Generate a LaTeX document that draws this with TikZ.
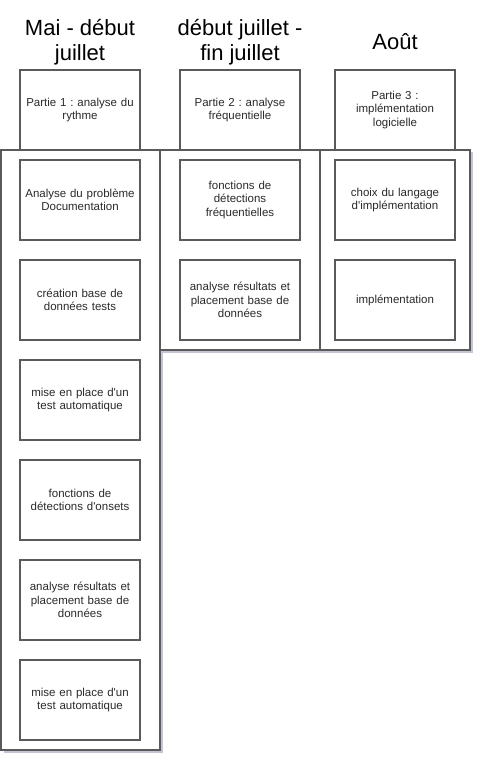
\documentclass[tikz,border=0pt]{standalone}
\usepackage{fontspec}
\setmainfont{Liberation Sans}
\usetikzlibrary{shadows}
\frenchspacing

\definecolor{edge}{HTML}{5A5A5A}
\definecolor{txt}{HTML}{2A2A2A}
\definecolor{shade}{HTML}{9AA0B8}
\newcommand{\ap}{\textquotesingle}

\begin{document}
\begin{tikzpicture}[x=1pt, y=-1pt,
    lane/.style={rectangle, draw=edge, line width=1.1pt, fill=white,
      drop shadow={shadow xshift=2.5pt, shadow yshift=-2.5pt, fill=shade, opacity=.6}},
    task/.style={rectangle, draw=edge, line width=1.1pt, fill=white,
      minimum width=120pt, minimum height=80pt, text width=118pt, align=center,
      inner sep=1pt, text=txt, font=\fontsize{11.5}{13.5}\selectfont},
    period/.style={align=center, text=black, font=\fontsize{22}{25}\selectfont}]
\useasboundingbox (0,0) rectangle (483,762);

\node[period] (T1) at (80,42)  {Mai - début\\juillet};
\node[period] (T2) at (240,42) {début juillet -\\fin juillet};
\node[period] (T3) at (395,42) {Août};

\node[lane, minimum width=159pt, minimum height=600pt] (L1) at (80.5,450) {};
\node[lane, minimum width=160pt, minimum height=200pt] (L2) at (240,250)  {};
\node[lane, minimum width=150pt, minimum height=200pt] (L3) at (395,250)  {};

\node[task] (P1) at (80,110)  {Partie 1 : analyse du\\rythme};
\node[task] (P2) at (240,110) {Partie 2 : analyse\\fréquentielle};
\node[task] (P3) at (395,110) {Partie 3 :\\implémentation\\logicielle};

\node[task] (A1) at (80,200) {Analyse du problème\\Documentation};
\node[task] (A2) at (80,300) {création base de\\données tests};
\node[task] (A3) at (80,400) {mise en place d\ap un\\test automatique};
\node[task] (A4) at (80,500) {fonctions de\\détections d\ap onsets};
\node[task] (A5) at (80,600) {analyse résultats et\\placement base de\\données};
\node[task] (A6) at (80,700) {mise en place d\ap un\\test automatique};

\node[task] (B1) at (240,200) {fonctions de\\détections\\fréquentielles};
\node[task] (B2) at (240,300) {analyse résultats et\\placement base de\\données};

\node[task] (C1) at (395,200) {choix du langage\\d\ap implémentation};
\node[task] (C2) at (395,300) {implémentation};
\end{tikzpicture}
\end{document}
